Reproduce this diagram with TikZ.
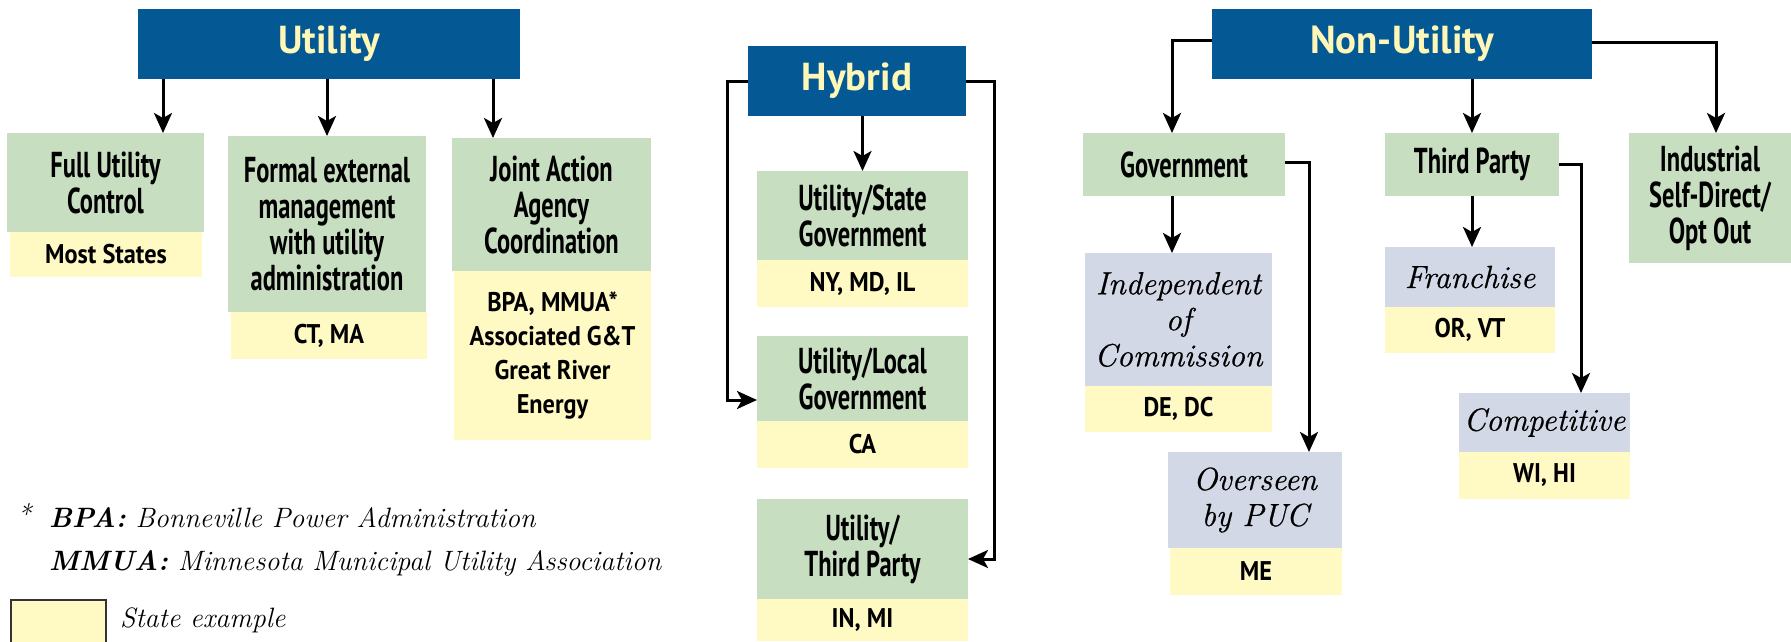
\documentclass[tikz,border=0pt]{standalone}
\usepackage{fontspec}
\newfontfamily\condf[FakeStretch=0.68]{PT Sans}
\newfontfamily\statef[FakeStretch=0.9]{PT Sans}
\newfontfamily\ttlf{PT Sans}
\newfontfamily\itf[FakeBold=0.7]{Latin Modern Roman}
\usetikzlibrary{arrows.meta}
\definecolor{tblue}{RGB}{4,89,148}
\definecolor{tyel}{RGB}{255,247,184}
\definecolor{gfill}{RGB}{199,222,192}
\definecolor{yfill}{RGB}{255,249,196}
\definecolor{lfill}{RGB}{211,216,230}
\newcommand\mybox[7]{\node[#1, minimum width={#5-#3}, minimum height={#6-#4}] (#2) at (#3,#4) {#7};}
\begin{document}
\begin{tikzpicture}[x=1pt,y=-1pt,
  box/.style={anchor=north west, inner sep=0pt, outer sep=0pt, align=center, draw=none},
  ttl/.style={box, fill=tblue, text=tyel, font=\ttlf\bfseries\fontsize{39}{40}\selectfont},
  gbox/.style={box, fill=gfill, font=\condf\bfseries\fontsize{36}{36}\selectfont},
  ybox/.style={box, fill=yfill, font=\statef\bfseries\fontsize{27}{34}\selectfont},
  lbox/.style={box, fill=lfill, font=\itf\itshape\fontsize{32}{36}\selectfont},
  arr/.style={line width=3pt, -{Stealth[length=20pt,width=18pt,inset=5pt]}},
  note/.style={anchor=base west, inner sep=0pt, font=\itshape\fontsize{28}{30}\selectfont}
]
\fill[white] (0,0) rectangle (1791,641);
\useasboundingbox (0,0) rectangle (1791,641);

% Utility
\mybox{ttl}{util}{138}{9}{520}{79}{Utility}
\mybox{gbox}{fuc}{7}{133}{204}{232}{Full Utility\\Control}
\mybox{ybox}{fucs}{10}{232}{202}{277}{Most States}
\mybox{gbox}{fml}{228}{136}{426}{312}{Formal external\\management\\with utility\\administration}
\mybox{ybox}{fmls}{231}{312}{427}{359}{CT, MA}
\mybox{gbox}{jnt}{452}{138}{651}{271}{Joint Action\\Agency\\Coordination}
\mybox{ybox}{jnts}{454}{271}{651}{440}{BPA, MMUA*\\Associated G\&T\\Great River\\Energy}

\draw[arr] ([xshift=25pt]util.south west) -- ([xshift=25pt]util.south west |- fuc.north);
\draw[arr] (util.south -| fml.north) -- (fml.north);
\draw[arr] ([xshift=-27pt]util.south east) -- ([xshift=-27pt]util.south east |- jnt.north);

% Hybrid
\mybox{ttl}{hyb}{748}{46}{966}{116}{Hybrid}
\mybox{gbox}{ust}{757}{171}{968}{260}{Utility/State\\Government}
\mybox{ybox}{usts}{757}{260}{968}{307}{NY, MD, IL}
\mybox{gbox}{uloc}{757}{336}{968}{421}{Utility/Local\\Government}
\mybox{ybox}{ulocs}{757}{421}{968}{468}{CA}
\mybox{gbox}{uthr}{757}{499}{968}{599}{Utility/\\Third Party}
\mybox{ybox}{uthrs}{757}{599}{968}{641}{IN, MI}

\draw[arr] (hyb.south -| ust.north) -- (ust.north);
\draw[arr] (hyb.west) -- ++(-21,0) |- ([yshift=-21.5pt]uloc.west);
\draw[arr] (hyb.east) -- ++(28,0) |- ([yshift=-10pt]uthr.east);

% Non-Utility
\mybox{ttl}{nonu}{1212}{9}{1592}{79}{Non-Utility}
\mybox{gbox}{gov}{1083}{133}{1285}{196}{Government}
\mybox{lbox}{ioc}{1085}{253}{1272}{386}{Independent\\of\\Commission}
\mybox{ybox}{iocs}{1085}{386}{1272}{432}{DE, DC}
\mybox{lbox}{ovr}{1168}{452}{1342}{548}{Overseen\\by PUC}
\mybox{ybox}{ovrs}{1170}{548}{1342}{595}{ME}
\mybox{gbox}{tp}{1385}{133}{1559}{196}{Third Party}
\mybox{lbox}{frn}{1385}{247}{1555}{307}{Franchise}
\mybox{ybox}{frns}{1385}{307}{1555}{353}{OR, VT}
\mybox{lbox}{cmp}{1459}{393}{1630}{452}{Competitive}
\mybox{ybox}{cmps}{1459}{452}{1630}{499}{WI, HI}
\mybox{gbox}{ind}{1629}{133}{1791}{263}{Industrial\\Self-Direct/\\Opt Out}

\draw[arr] ([yshift=4pt]nonu.west) -| ([xshift=-12pt]gov.north);
\draw[arr] (nonu.south -| tp.north) -- (tp.north);
\draw[arr] ([yshift=2pt]nonu.east) -| ([xshift=6pt]ind.north);
\draw[arr] ([xshift=-12pt]gov.south) -- ([xshift=-12pt]gov.south |- ioc.north);
\draw[arr] ([yshift=2pt]gov.east) -| ([xshift=54pt]ovr.north);
\draw[arr] (tp.south) -- (tp.south |- frn.north);
\draw[arr] (tp.east) -| ([xshift=36.5pt]cmp.north);

% Notes and legend
\node[note] (star) at (17,524) {*};
\node[note] (fn1) at (49,527) {\textbf{BPA:} Bonneville Power Administration};
\node[note] (fn2) at (49,570) {\textbf{MMUA:} Minnesota Municipal Utility Association};
\node[box, fill=yfill, draw=black!80, line width=1.5pt, minimum width=95, minimum height=46] (leg) at (11,600) {};
\node[note] (legt) at (120,627) {State example};
\end{tikzpicture}
\end{document}
